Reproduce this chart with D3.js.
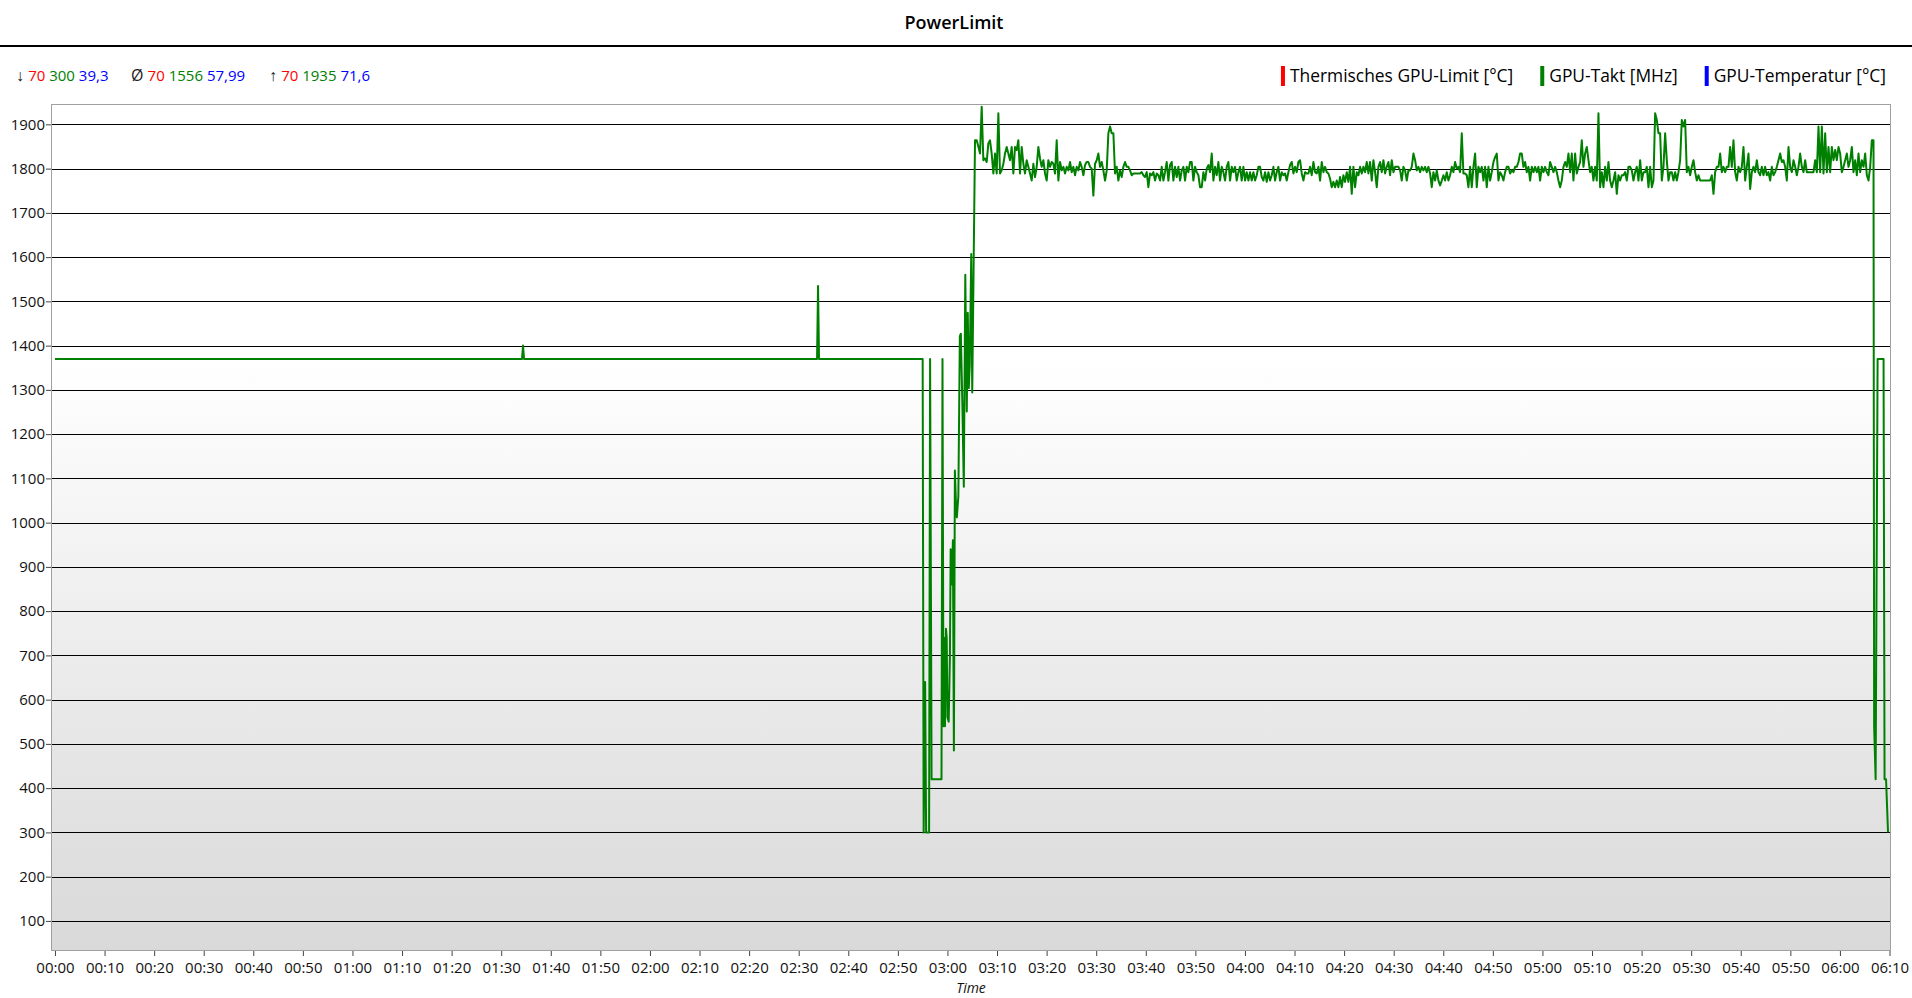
<!DOCTYPE html>
<html>
<head>
<meta charset="utf-8">
<script src="https://cdn.jsdelivr.net/npm/d3@7"></script>
<style>
  html, body { margin: 0; padding: 0; background: #ffffff; }
  svg { display: block; font-family: "Segoe UI", "Open Sans", "Noto Sans", sans-serif; }
</style>
</head>
<body>
<svg id="chart" width="1912" height="998"></svg>
<script>
// ---------------- DATA ----------------
const chartTitle = "PowerLimit";
const xAxisTitle = "Time";

const seriesNames  = ["Thermisches GPU-Limit [°C]", "GPU-Takt [MHz]", "GPU-Temperatur [°C]"];
const seriesColors = ["#ff0000", "#008000", "#0000ff"];

// statistics line (min / avg / max for each series)
const statSymbols = ["↓", "Ø", "↑"];
const statLimit   = ["70", "70", "70"];
const statClock   = ["300", "1556", "1935"];
const statTemp    = ["39,3", "57,99", "71,6"];

// y ticks (MHz) and x ticks (minutes)
const yTickValues = [100, 200, 300, 400, 500, 600, 700, 800, 900, 1000, 1100, 1200, 1300, 1400, 1500, 1600, 1700, 1800, 1900];
const xTickMinutes = [0,10,20,30,40,50,60,70,80,90,100,110,120,130,140,150,160,170,180,190,200,210,220,230,240,250,260,270,280,290,300,310,320,330,340,350,360,370];

// GPU clock: idle phase and ramp-up (minutes, MHz)
const earlyMinutes = [0, 94.2, 94.4, 94.6, 153.7, 153.9, 154.1, 175.0, 175.2, 175.5, 175.7, 176.3, 176.5, 176.8, 178.8, 179.0, 179.2, 179.3, 179.5, 179.7, 179.85, 180.0, 180.25, 180.5, 180.65, 180.9, 181.1, 181.3, 181.5, 181.7, 181.9, 182.2, 182.5, 182.7, 183.0, 183.3, 183.6, 183.9, 184.1, 184.3, 184.5, 184.8, 185.0, 185.2];
const earlyClock   = [1370, 1370, 1400, 1370, 1370, 1535, 1370, 1370, 300, 640, 300, 300, 1370, 420, 420, 1370, 540, 740, 540, 760, 740, 560, 550, 700, 940, 860, 960, 485, 1118, 1050, 1012, 1060, 1421, 1427, 1272, 1081, 1560, 1251, 1474, 1304, 1357, 1607, 1294, 1500];

// GPU clock under load, sampled every ~20 s
const loadStartMinute = 185.56;
const loadStepMinute  = 0.3362;
const loadClock = [
1864,1864,1850,1834,1940,1819,1823,1815,1857,1864,
1834,1789,1834,1789,1925,1789,1796,1811,1834,1849,
1834,1819,1849,1789,1849,1842,1864,1789,1849,1811,
1789,1819,1804,1789,1773,1811,1781,1804,1849,1823,
1804,1819,1789,1773,1819,1804,1815,1811,1789,1864,
1773,1815,1796,1804,1789,1804,1796,1815,1792,1804,
1785,1804,1796,1815,1804,1785,1808,1815,1815,1804,
1800,1739,1811,1819,1834,1804,1815,1796,1773,1796,
1880,1895,1880,1880,1789,1804,1773,1796,1781,1804,
1815,1804,1804,1796,1785,1789,1789,1789,1789,1789,
1792,1785,1781,1792,1758,1789,1785,1792,1773,1789,
1785,1773,1804,1773,1792,1815,1773,1808,1815,1773,
1804,1781,1804,1773,1796,1804,1773,1804,1792,1815,
1815,1773,1804,1792,1785,1758,1758,1792,1773,1800,
1808,1792,1834,1773,1804,1785,1815,1773,1804,1792,
1773,1804,1815,1773,1804,1792,1804,1773,1792,1804,
1773,1804,1773,1792,1773,1792,1773,1792,1773,1785,
1804,1804,1781,1773,1792,1770,1792,1773,1785,1804,
1773,1792,1804,1773,1792,1785,1789,1773,1792,1808,
1815,1789,1804,1792,1815,1819,1789,1773,1792,1789,
1789,1804,1785,1815,1792,1789,1804,1773,1815,1792,
1804,1792,1789,1777,1758,1770,1758,1773,1758,1781,
1758,1785,1770,1792,1770,1804,1743,1804,1758,1792,
1785,1804,1789,1804,1792,1815,1789,1815,1773,1819,
1792,1758,1804,1815,1792,1819,1789,1804,1815,1785,
1819,1792,1804,1804,1804,1796,1773,1804,1796,1773,
1796,1796,1804,1834,1819,1796,1804,1792,1804,1796,
1804,1792,1804,
1789,1758,1792,1773,1796,1773,1762,1773,1785,1773,
1792,1773,1785,1804,1792,1815,1800,1804,1792,1880,
1789,1789,1785,1758,1804,1758,1804,1834,1758,1804,
1792,1804,1773,1804,1758,1804,1773,1792,1815,1826,
1834,1773,1792,1785,1773,1792,1804,1804,1789,1796,
1792,1804,1804,1815,1834,1834,1804,1815,1792,1804,
1773,1804,1792,1804,1792,1804,1773,1804,1792,1804,
1792,1785,1815,1804,1792,1804,1792,1773,1758,1773,
1804,1815,1804,1834,1792,1834,1773,1834,1789,1804,
1815,1864,1804,1834,1849,1819,1792,1804,1773,1804,
1773,1925,1758,1792,1758,1804,1773,1815,1773,1758,
1773,1792,1743,1785,1773,1785,1785,1792,1773,1804,
1804,1796,1773,1792,1804,1773,1819,1773,1792,1792,
1804,1758,1804,1758,1773,1925,1910,1880,1880,1773,
1804,1880,1819,1773,1792,1792,1773,1792,1773,1792,
1819,1910,1895,1910,1792,1804,1785,1804,1819,1792,
1773,1785,1773,1773,1773,1773,1773,1773,1773,1785,
1743,1792,1804,1804,1834,1792,1804,1792,1804,1804,
1849,1804,1864,1792,1773,1804,1792,1804,1849,1773,
1804,1834,1754,1792,1804,1792,1819,1792,1785,1804,
1785,1804,1785,1792,1773,1804,1785,1792,1804,1819,
1834,1815,1819,1804,1773,1849,1804,1792,1819,1804,
1785,1804,1834,1804,1792,1819,1792,1792,1792,1792,
1792,1819,1792,1895,1792,1895,1789,1880,1792,1849,
1792,1849,1819,1842,1819,1849,1834,1792,1804,1819,
1834,1804,1819,1849,1792,1819,1785,1834,1792,1819,
1804,1834,1785,1773,1804,1864,1864
];

// GPU clock at the end of the run (minutes, MHz)
const endMinutes = [366.9, 367.2, 367.6, 368.8, 369.0, 369.3, 369.7];
const endClock   = [540, 420, 1370, 1370, 420, 420, 300];

// ---------------- CHART ----------------
const W = 1912, H = 998;
const plot = { left: 51, right: 1891, top: 104, bottom: 951 };

const svg = d3.select("#chart");

const x = d3.scaleLinear().domain([-0.8, 370.3]).range([plot.left, plot.right]);
const y = d3.scaleLinear().domain([32, 1946]).range([plot.bottom, plot.top]);

// build series
const clockSeries = [];
earlyMinutes.forEach((m, i) => clockSeries.push([m, earlyClock[i]]));
loadClock.forEach((v, i) => clockSeries.push([loadStartMinute + i * loadStepMinute, v]));
endMinutes.forEach((m, i) => clockSeries.push([m, endClock[i]]));

// title
svg.append("text")
  .attr("x", 954).attr("y", 29)
  .attr("text-anchor", "middle")
  .attr("font-size", 18).attr("font-weight", 600)
  .attr("fill", "#000")
  .text(chartTitle);

svg.append("line")
  .attr("x1", 0).attr("x2", W).attr("y1", 46).attr("y2", 46)
  .attr("stroke", "#000").attr("stroke-width", 2);

// stats legend (left)
const statX = [16, 131, 269];
statSymbols.forEach((s, i) => {
  const t = svg.append("text")
    .attr("x", statX[i]).attr("y", 81)
    .attr("font-size", 15);
  t.append("tspan").attr("fill", "#222").attr("font-size", 16).text(s + " ");
  t.append("tspan").attr("fill", seriesColors[0]).text(statLimit[i] + " ");
  t.append("tspan").attr("fill", seriesColors[1]).text(statClock[i] + " ");
  t.append("tspan").attr("fill", seriesColors[2]).text(statTemp[i]);
});

// series legend (right), laid out right to left
let cursor = 1886;
const legendItems = seriesNames.map((n, i) => ({ name: n, color: seriesColors[i] })).reverse();
legendItems.forEach(item => {
  const g = svg.append("g");
  const t = g.append("text")
    .attr("y", 82)
    .attr("font-size", 17.4)
    .attr("fill", "#000")
    .text(item.name);
  const w = t.node().getComputedTextLength();
  const tx = cursor - w;
  t.attr("x", tx);
  g.append("rect")
    .attr("x", tx - 9).attr("y", 66)
    .attr("width", 4).attr("height", 20)
    .attr("fill", item.color);
  cursor = tx - 9 - 27;
});

// plot background gradient
const defs = svg.append("defs");
const grad = defs.append("linearGradient")
  .attr("id", "bg").attr("x1", 0).attr("y1", 0).attr("x2", 0).attr("y2", 1);
grad.append("stop").attr("offset", "0").attr("stop-color", "#ffffff");
grad.append("stop").attr("offset", "0.30").attr("stop-color", "#ffffff");
grad.append("stop").attr("offset", "1").attr("stop-color", "#d9d9d9");

svg.append("rect")
  .attr("x", plot.left).attr("y", plot.top)
  .attr("width", plot.right - plot.left).attr("height", plot.bottom - plot.top)
  .attr("fill", "url(#bg)");

// y axis with gridlines
const yAxis = d3.axisLeft(y)
  .tickValues(yTickValues)
  .tickSize(5)
  .tickPadding(1)
  .tickFormat(d3.format("d"));
const gy = svg.append("g")
  .attr("transform", `translate(${plot.left},0)`)
  .call(yAxis);
gy.select(".domain").remove();
gy.selectAll(".tick line").attr("stroke", "#444");
gy.selectAll(".tick text")
  .attr("font-size", 15)
  .attr("font-family", "\"Segoe UI\", \"Open Sans\", \"Noto Sans\", sans-serif")
  .attr("fill", "#111");

svg.append("g")
  .selectAll("line")
  .data(yTickValues)
  .join("line")
  .attr("x1", plot.left).attr("x2", plot.right)
  .attr("y1", d => Math.round(y(d)) + 0.5).attr("y2", d => Math.round(y(d)) + 0.5)
  .attr("stroke", "#000").attr("stroke-width", 1.2);

// x axis
const fmtTime = m => String(Math.floor(m / 60)).padStart(2, "0") + ":" + String(m % 60).padStart(2, "0");
const xAxis = d3.axisBottom(x)
  .tickValues(xTickMinutes)
  .tickSize(5)
  .tickPadding(6)
  .tickFormat(fmtTime);
const gx = svg.append("g")
  .attr("transform", `translate(0,${plot.bottom})`)
  .call(xAxis);
gx.select(".domain").remove();
gx.selectAll(".tick line").attr("stroke", "#444");
gx.selectAll(".tick text")
  .attr("font-size", 15)
  .attr("font-family", "\"Segoe UI\", \"Open Sans\", \"Noto Sans\", sans-serif")
  .attr("fill", "#111");

svg.append("text")
  .attr("x", (plot.left + plot.right) / 2).attr("y", 993)
  .attr("text-anchor", "middle")
  .attr("font-size", 14).attr("font-style", "italic")
  .attr("fill", "#111")
  .text(xAxisTitle);

// clip + line
defs.append("clipPath").attr("id", "clip")
  .append("rect")
  .attr("x", plot.left).attr("y", plot.top)
  .attr("width", plot.right - plot.left).attr("height", plot.bottom - plot.top);

const line = d3.line().x(d => x(d[0])).y(d => y(d[1]));
svg.append("path")
  .datum(clockSeries)
  .attr("clip-path", "url(#clip)")
  .attr("d", line)
  .attr("fill", "none")
  .attr("stroke", seriesColors[1])
  .attr("stroke-width", 2)
  .attr("stroke-linejoin", "round");

// plot border
svg.append("rect")
  .attr("x", plot.left + 0.5).attr("y", plot.top + 0.5)
  .attr("width", plot.right - plot.left - 1).attr("height", plot.bottom - plot.top - 1)
  .attr("fill", "none").attr("stroke", "#a0a0a0").attr("stroke-width", 1);
</script>
</body>
</html>
